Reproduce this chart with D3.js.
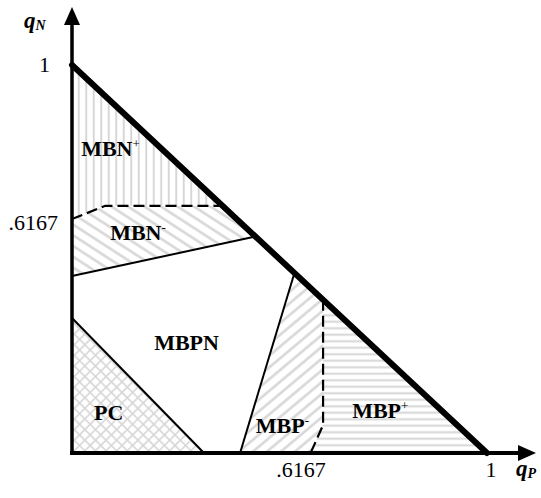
<!DOCTYPE html>
<html>
<head>
<meta charset="utf-8">
<script src="https://cdn.jsdelivr.net/npm/d3@7"></script>
<style>
  body { margin: 0; background: #fff; }
</style>
</head>
<body>
<div id="chart"></div>
<script>
// region outlines, in (qP, qN) units
const mbnPlus  = [[0, 1], [0, 0.603], [0.08, 0.637], [0.363, 0.637]];
const mbnMinus = [[0, 0.603], [0.08, 0.637], [0.363, 0.637], [0.442, 0.558], [0, 0.456]];
const pcRegion = [[0, 0], [0, 0.348], [0.318, 0]];
const mbpMinus = [[0.405, 0], [0.536, 0.464], [0.605, 0.395], [0.605, 0.072], [0.575, 0]];
const mbpPlus  = [[0.605, 0.395], [1, 0], [0.575, 0], [0.605, 0.072]];

// boundary lines
const frontier   = [[0, 1], [1, 0]];
const mbnDashed  = [[0, 0.603], [0.08, 0.637], [0.363, 0.637]];
const mbnSolid   = [[0, 0.456], [0.442, 0.558]];
const pcLine     = [[0, 0.348], [0.318, 0]];
const mbpSolid   = [[0.405, 0], [0.536, 0.464]];
const mbpDashed  = [[0.605, 0.395], [0.605, 0.072], [0.575, 0]];

// region names and where they sit
const regionNames = ["MBN", "MBN", "MBPN", "PC", "MBP", "MBP"];
const regionSups  = ["+", "-", "", "", "-", "+"];
const regionAt    = [[0.022, 0.765], [0.092, 0.549], [0.198, 0.265], [0.053, 0.085], [0.443, 0.052], [0.675, 0.09]];

// tick values and labels
const xTicks = [0.6167, 1];
const xTickLabels = [".6167", "1"];
const yTicks = [0.6167, 1];
const yTickLabels = [".6167", "1"];

const width = 541, height = 498;
const serif = "'Liberation Serif', Tinos, 'Times New Roman', 'DejaVu Serif', serif";

const x = d3.scaleLinear().domain([0, 1]).range([72, 487]);
const y = d3.scaleLinear().domain([0, 1]).range([453, 65]);

const svg = d3.select("#chart")
  .append("svg")
    .attr("width", width)
    .attr("height", height)
    .attr("font-family", serif)
    .style("font-family", serif);

const defs = svg.append("defs");
const hatch = "#d6d6d6";

function linePattern(id, gap, angle, w) {
  const p = defs.append("pattern")
    .attr("id", id)
    .attr("patternUnits", "userSpaceOnUse")
    .attr("width", 20).attr("height", gap)
    .attr("patternTransform", `rotate(${angle})`);
  p.append("line")
    .attr("x1", 0).attr("x2", 20)
    .attr("y1", gap / 2).attr("y2", gap / 2)
    .attr("stroke", hatch).attr("stroke-width", w);
}
linePattern("vert", 7.5, 90, 2);
linePattern("diagDown", 9, 33, 2.5);
linePattern("diagUp", 9, -40, 2.5);
linePattern("horiz", 6.5, 0, 2);

// cross hatch for PC
const cross = defs.append("pattern")
  .attr("id", "cross")
  .attr("patternUnits", "userSpaceOnUse")
  .attr("width", 7.5).attr("height", 7.5)
  .attr("patternTransform", "rotate(45)");
cross.append("line").attr("x1", 0).attr("x2", 7.5).attr("y1", 3.75).attr("y2", 3.75)
  .attr("stroke", hatch).attr("stroke-width", 1.6);
cross.append("line").attr("y1", 0).attr("y2", 7.5).attr("x1", 3.75).attr("x2", 3.75)
  .attr("stroke", hatch).attr("stroke-width", 1.6);

const line = d3.line().x(d => x(d[0])).y(d => y(d[1]));

const regions = [
  { pts: mbnPlus, fill: "url(#vert)" },
  { pts: mbnMinus, fill: "url(#diagDown)" },
  { pts: pcRegion, fill: "url(#cross)" },
  { pts: mbpMinus, fill: "url(#diagUp)" },
  { pts: mbpPlus, fill: "url(#horiz)" }
];

svg.selectAll(".region")
  .data(regions)
  .join("path")
    .attr("class", "region")
    .attr("d", d => line(d.pts) + "Z")
    .attr("fill", d => d.fill);

// thin solid boundaries
svg.selectAll(".solid")
  .data([mbnSolid, pcLine, mbpSolid])
  .join("path")
    .attr("class", "solid")
    .attr("d", line)
    .attr("fill", "none")
    .attr("stroke", "#000")
    .attr("stroke-width", 2);

// dashed boundaries
svg.selectAll(".dashed")
  .data([mbnDashed, mbpDashed])
  .join("path")
    .attr("class", "dashed")
    .attr("d", line)
    .attr("fill", "none")
    .attr("stroke", "#000")
    .attr("stroke-width", 2.2)
    .attr("stroke-dasharray", "11,5");

// axes with arrows
svg.append("line")
  .attr("x1", x(0)).attr("x2", x(0))
  .attr("y1", y(0) + 2).attr("y2", 22)
  .attr("stroke", "#000").attr("stroke-width", 3.5);
svg.append("path")
  .attr("d", `M${x(0)},7 L${x(0) - 8},25 L${x(0) + 8},25 Z`)
  .attr("fill", "#000");

svg.append("line")
  .attr("x1", x(0) - 2).attr("x2", 520)
  .attr("y1", y(0)).attr("y2", y(0))
  .attr("stroke", "#000").attr("stroke-width", 4);
svg.append("path")
  .attr("d", `M536,${y(0)} L518,${y(0) - 8} L518,${y(0) + 8} Z`)
  .attr("fill", "#000");

// the thick frontier
svg.append("path")
  .attr("d", line(frontier))
  .attr("fill", "none")
  .attr("stroke", "#000")
  .attr("stroke-width", 6)
  .attr("stroke-linecap", "round");

// tick labels
svg.selectAll(".xtick")
  .data(xTicks)
  .join("text")
    .attr("class", "xtick")
    .attr("x", (d, i) => i === 0 ? x(d) - 27 : x(d) + 4)
    .attr("y", 477)
    .attr("text-anchor", "middle")
    .style("font-size", "22px")
    .text((d, i) => xTickLabels[i]);

svg.selectAll(".ytick")
  .data(yTicks)
  .join("text")
    .attr("class", "ytick")
    .attr("x", (d, i) => i === 0 ? 58 : 50)
    .attr("y", (d, i) => i === 0 ? y(d) + 16 : y(d) + 7)
    .attr("text-anchor", "end")
    .style("font-size", "22px")
    .text((d, i) => yTickLabels[i]);

// axis titles
const qn = svg.append("text")
  .attr("x", 24).attr("y", 28)
  .style("font-weight", "bold").style("font-style", "italic");
qn.append("tspan").style("font-size", "23px").text("q");
qn.append("tspan").style("font-size", "14px").attr("dy", 2).text("N");

const qp = svg.append("text")
  .attr("x", 516).attr("y", 476)
  .style("font-weight", "bold").style("font-style", "italic");
qp.append("tspan").style("font-size", "23px").text("q");
qp.append("tspan").style("font-size", "14px").attr("dy", 2).text("P");

// region labels
const labels = svg.selectAll(".rlabel")
  .data(regionNames)
  .join("text")
    .attr("class", "rlabel")
    .attr("x", (d, i) => x(regionAt[i][0]))
    .attr("y", (d, i) => y(regionAt[i][1]))
    .style("font-size", "22px")
    .style("font-weight", "bold");
labels.append("tspan").text(d => d);
labels.append("tspan")
  .attr("dy", -8)
  .style("font-size", "13px")
  .style("font-weight", "normal")
  .text((d, i) => regionSups[i]);
</script>
</body>
</html>
